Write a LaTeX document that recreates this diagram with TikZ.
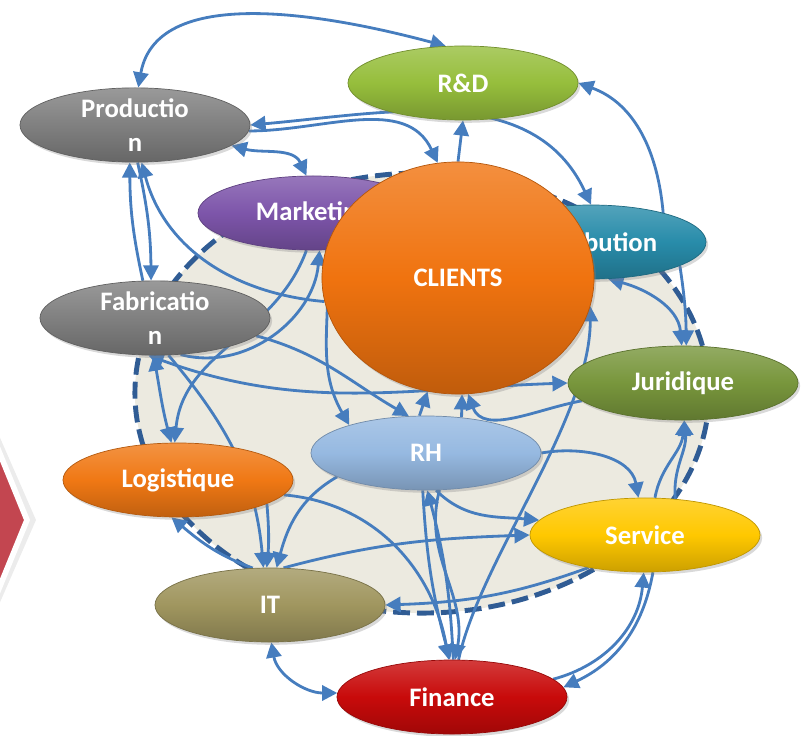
\documentclass[tikz,border=0pt]{standalone}
\usepackage{fontspec}
\setmainfont{Carlito}
\usetikzlibrary{shapes.geometric,arrows.meta,shadows}
\definecolor{linkblue}{RGB}{70,125,190}
\definecolor{ringblue}{RGB}{48,92,148}
\definecolor{ringfill}{RGB}{236,234,224}
\definecolor{greycol}{RGB}{128,128,128}
\definecolor{rdgreen}{RGB}{150,190,60}
\definecolor{mktpurple}{RGB}{125,85,170}
\definecolor{distteal}{RGB}{40,140,170}
\definecolor{clientorange}{RGB}{240,115,15}
\definecolor{jurgreen}{RGB}{120,150,60}
\definecolor{rhblue}{RGB}{150,185,225}
\definecolor{logorange}{RGB}{240,120,20}
\definecolor{servyellow}{RGB}{255,200,0}
\definecolor{itkhaki}{RGB}{160,150,95}
\definecolor{finred}{RGB}{200,10,10}
\definecolor{chevred}{RGB}{195,70,80}
\newcommand{\deptfont}{\fontsize{19}{24}\selectfont\bfseries}
\pgfdeclarelayer{ring}
\pgfdeclarelayer{links}
\pgfsetlayers{ring,links,main}
\begin{document}
\begin{tikzpicture}[
  x=0.025cm, y=0.025cm,
  >={Triangle[length=3.8mm,width=3.8mm]},
  dept/.style={ellipse, inner sep=0pt, minimum width=5.75cm, minimum height=1.85cm,
    align=center, text=white, font=\deptfont, draw=#1!75!black, line width=0.5pt,
    top color=#1!80!white, bottom color=#1!80!black, middle color=#1,
    drop shadow={opacity=0.3, shadow xshift=1.5pt, shadow yshift=-2pt}},
  link/.style={draw=linkblue, line width=2pt}
]
\useasboundingbox (0,0) rectangle (806,-735);

\fill[gray!15] (-20,-392) -- (36,-520) -- (-20,-648) -- cycle;
\filldraw[fill=chevred, draw=white, line width=4pt] (-20,-405) -- (27,-520) -- (-20,-635) -- cycle;

\begin{pgfonlayer}{ring}
\draw[ringblue, fill=ringfill, line width=3.5pt, dash pattern=on 12pt off 5pt]
  (422,-393) ellipse [x radius=7.175cm, y radius=5.5cm];
\end{pgfonlayer}

\node[dept=greycol] (prod) at (135,-125) {Productio\\n};
\node[dept=rdgreen] (rd) at (463,-83) {R\&D};
\node[dept=greycol] (fab) at (155,-318) {Fabricatio\\n};
\node[dept=mktpurple] (mkt) at (313,-213) {Marketing};
\node[dept=distteal] (dist) at (591,-242) {Distribution};
\node[dept=clientorange, minimum width=6.8cm, minimum height=5.8cm] (clients) at (458,-278) {CLIENTS};
\node[dept=jurgreen] (jur) at (683,-383) {Juridique};
\node[dept=rhblue] (rh) at (426,-453) {RH};
\node[dept=logorange] (log) at (178,-480) {Logistique};
\node[dept=servyellow] (serv) at (645,-535) {Service};
\node[dept=itkhaki] (it) at (270,-605) {IT};
\node[dept=finred] (fin) at (452,-697) {Finance};

\begin{pgfonlayer}{links}
\draw[link,<->] (prod.85) to[out=80,in=165,looseness=0.9] (rd.115);
\draw[link,->] (clients.north) -- (rd.south);
\draw[link,<->] (prod.east) to[out=5,in=115] (dist.north);
\draw[link,->] (prod.-3) to[out=0,in=115] (clients.100);
\draw[link,<->] (prod.-12) to[out=-15,in=115] (mkt.100);
\draw[link,->] (dist.22) to[out=95,in=-20] (rd.east);
\draw[link,->] (prod.-86) to[bend left=6] (fab.96);
\draw[link,->] (fab.108) to[bend left=6] (prod.-98);
\draw[link,->] (clients.190) to[out=175,in=-75] (prod.-80);
\draw[link,<->] (dist.-65) to[out=-15,in=95] (jur.92);
\draw[link,->] (dist.-15) to[bend left=4] (jur.85);
\draw[link,<->] (fab.-100) to[out=-20,in=182] (jur.west);
\draw[link,->] (mkt.-100) to[out=-110,in=85] (log.95);
\draw[link,<->] (fab.-92) to[out=-80,in=105] (log.100);
\draw[link,->] (fab.-55) to[out=-15,in=-95] (mkt.-80);
\draw[link,->] (fab.-70) to[out=-50,in=95] (it.100);
\draw[link,->] (fab.-10) to[out=-15,in=150] (rh.115);
\draw[link,->] (mkt.-70) to[out=-85,in=120] (rh.160);
\draw[link,->] (log.-15) to[bend left=5] (it.95);
\draw[link,->] (it.115) to[out=160,in=-40] (log.-100);
\draw[link,->] (rh.-165) to[out=-150,in=75] (it.80);
\draw[link,->] (it.70) to[out=15,in=182] (serv.west);
\draw[link,->] (log.-8) to[out=-5,in=100] (fin.95);
\draw[link,->] (rh.100) -- (clients.-105);
\draw[link,->] (rh.45) -- (clients.-88);
\draw[link,->] (jur.-170) to[out=190,in=-70] (clients.-85);
\draw[link,->] (rh.-95) to[bend right=6] (fin.93);
\draw[link,->] (fin.88) to[bend right=6] (rh.-88);
\draw[link,->] (rh.-70) to[out=-105,in=80] (fin.85);
\draw[link,->] (rh.-75) to[out=-45,in=175] (serv.172);
\draw[link,->] (rh.east) to[out=10,in=100] (serv.100);
\draw[link,->] (serv.75) to[out=80,in=-95] (jur.-88);
\draw[link,->] (serv.50) to[out=95,in=-85] (jur.-88);
\draw[link,->] (serv.-150) to[out=-160,in=2] (it.east);
\draw[link,->] (fin.10) to[out=15,in=-95] (serv.-92);
\draw[link,->] (serv.-78) to[out=-100,in=25] (fin.5);
\draw[link,<->] (it.-88) to[out=-80,in=180] (fin.178);
\draw[link,->] (fin.80) .. controls (480,-560) and (590,-420) .. (clients.-12);
\end{pgfonlayer}
\end{tikzpicture}
\end{document}
